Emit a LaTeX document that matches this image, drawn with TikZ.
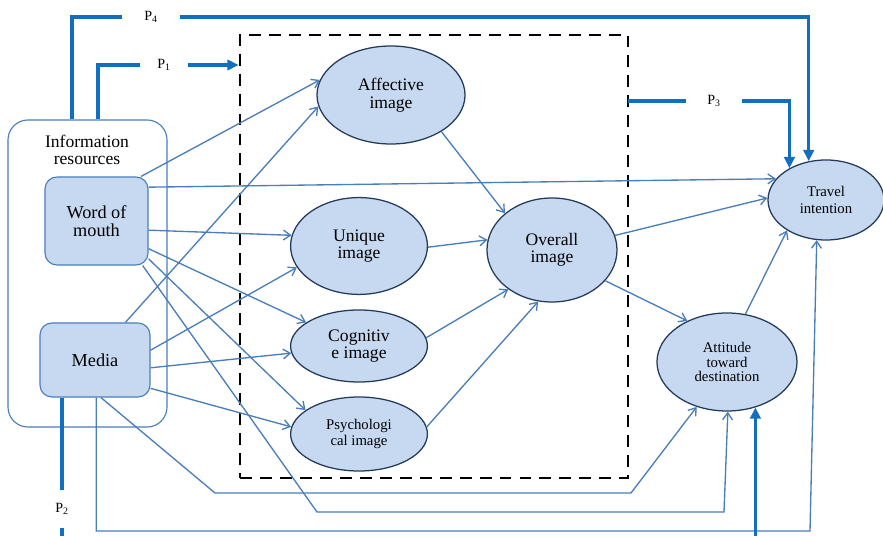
\documentclass[tikz,border=0pt]{standalone}
\usepackage{fontspec}
\setmainfont{Liberation Serif}
\usepackage{xcolor}
\usepackage{tikz}
\usetikzlibrary{arrows.meta,shapes.geometric}

\definecolor{linkblue}{RGB}{74,126,187}
\definecolor{pblue}{RGB}{20,110,190}
\definecolor{fillblue}{RGB}{198,217,241}
\definecolor{rimblue}{RGB}{36,58,90}

\begin{document}
\begin{tikzpicture}[
    x=0.025cm,
    y=-0.025cm,
    imgnode/.style={
        ellipse,
        draw=rimblue,
        fill=fillblue,
        line width=0.9pt,
        inner sep=0pt,
        align=center,
        font=\fontsize{12.5}{12.5}\selectfont
    },
    srcbox/.style={
        rectangle,
        rounded corners=0.3cm,
        draw=linkblue,
        fill=fillblue,
        line width=0.8pt,
        align=center,
        font=\fontsize{13}{12.5}\selectfont
    },
    grpbox/.style={rectangle,rounded corners=0.5cm,draw=linkblue,line width=0.8pt},
    frame/.style={rectangle,draw=black,line width=2pt,dash pattern=on 8.5pt off 5.7pt},
    link/.style={draw=linkblue,line width=0.95pt,-{Straight Barb[length=5pt,width=7pt]}},
    plink/.style={draw=pblue,line width=2.2pt,-{Triangle[length=8pt,width=7.5pt]}},
    ptag/.style={fill=white,inner sep=0pt,font=\fontsize{10}{10}\selectfont}
]
\useasboundingbox (0,0) rectangle (883,536);

% dashed frame round the image nodes
\node[frame,minimum width=9.7cm,minimum height=11.075cm] (box) at (434,256.5) {};

% information resources
\node[grpbox,minimum width=3.975cm,minimum height=7.675cm] (info) at (87.5,273.5) {};
\node[align=center,font=\fontsize{12.5}{12.5}\selectfont] (infotxt) at (87,150) {Information\\resources};
\node[srcbox,minimum width=2.575cm,minimum height=2.2cm] (wom) at (96.5,221) {Word of\\mouth};
\node[srcbox,minimum width=2.75cm,minimum height=1.85cm] (med) at (95,360) {Media};

% image nodes
\node[imgnode,minimum width=3.7cm,minimum height=2.45cm] (aff) at (391,95) {Affective\\image};
\node[imgnode,minimum width=3.42cm,minimum height=2.42cm] (uni) at (359,246) {Unique\\image};
\node[imgnode,minimum width=3.42cm,minimum height=1.8cm] (cog) at (359,346) {Cognitiv\\e image};
\node[imgnode,minimum width=3.42cm,minimum height=1.85cm,font=\fontsize{10.5}{12}\selectfont] (psy) at (359,434) {Psychologi\\cal image};
\node[imgnode,minimum width=3.25cm,minimum height=2.6cm] (ovr) at (552,250) {Overall\\image};
\node[imgnode,minimum width=2.9cm,minimum height=2cm,font=\fontsize{10.5}{12}\selectfont] (trv) at (826,200) {Travel\\intention};
\node[imgnode,minimum width=3.5cm,minimum height=2.45cm,font=\fontsize{10.5}{10.6}\selectfont] (att) at (727,362) {Attitude\\toward\\destination};

% bends of the long links
\coordinate (b1) at (215,493);
\coordinate (b2) at (631,493);
\coordinate (b3) at (317,512);
\coordinate (b4) at (724,512);
\coordinate (b6) at (810,531);

% word of mouth
\draw[link] (wom.45) -- (aff.168);
\draw[link] (wom.33) -- (trv.157);
\draw[link] (wom.350) -- (uni.171);
\draw[link] (wom.332) -- (cog.156);
\draw[link] (wom.324) -- (psy.156);
\draw[link] (wom.316) -- (b3) -- (b4) -- (att.271);

% media
\draw[link] (med.51) -- (aff.189);
\draw[link] (med.10) -- (uni.199);
\draw[link] (med.352) -- (cog.186);
\draw[link] (med.333) -- (psy.174);
\draw[link] (med.279) -- (b1) -- (b2) -- (att.236);
\draw[link] (med.272) -- (med.272 |- b6) -- (b6) -- (trv.257);

% images to overall image
\draw[link] (aff.324) -- (ovr.142);
\draw[link] (uni.359) -- (ovr.171);
\draw[link] (cog.7) -- (ovr.222);
\draw[link] (psy.6) -- (ovr.255);

\draw[link] (ovr.13) -- (trv.178);
\draw[link] (ovr.330) -- (att.134);
\draw[link] (att.69) -- (trv.218);

% paths P1..P4
\coordinate (p4s) at (72,17);
\coordinate (p1s) at (98,65);
\coordinate (p3s) at (628,101);
\coordinate (p2s) at (62,540);
\draw[plink] (p4s |- info.north) -- (p4s) -- (trv.114 |- p4s) -- (trv.114);
\draw[plink] (p1s |- info.north) -- (p1s) -- (box.west |- p1s);
\draw[plink] (p3s) -- (trv.139 |- p3s) -- (trv.139);
\draw[plink] (med.south -| p2s) -- (p2s) -- (att.302 |- p2s) -- (att.302);

\node[ptag,minimum width=1.43cm,minimum height=0.3cm] (p4) at (151,17) {P\textsubscript{4}};
\node[ptag,minimum width=1.2cm,minimum height=0.3cm] (p1) at (164,65) {P\textsubscript{1}};
\node[ptag,minimum width=1.4cm,minimum height=0.3cm] (p3) at (714,101) {P\textsubscript{3}};
\node[ptag,minimum width=0.3cm,minimum height=0.95cm] (p2) at (62,509) {P\textsubscript{2}};
\end{tikzpicture}
\end{document}
